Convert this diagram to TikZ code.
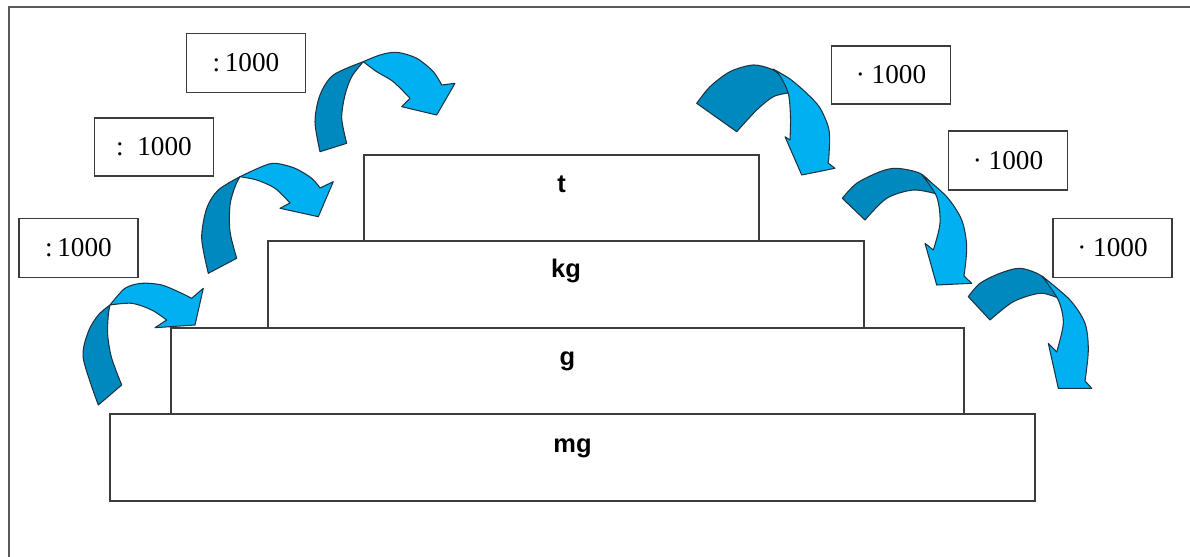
\documentclass[tikz,border=0pt]{standalone}
\usepackage{fontspec}
\setmainfont{Liberation Serif}
\setsansfont{Liberation Sans}
\definecolor{lightarrow}{HTML}{00B0F0}
\definecolor{darkarrow}{HTML}{0089BF}
\definecolor{boxline}{HTML}{3C3C3C}
\definecolor{frameline}{HTML}{5A5A5A}
\definecolor{arrowline}{HTML}{1C3442}
\tikzset{
  stepbox/.style={draw=boxline, line width=0.85pt, inner sep=0pt},
  unitlabel/.style={font=\sffamily\bfseries\fontsize{14.5}{17}\selectfont, anchor=base, inner sep=0pt},
  factorbox/.style={draw=boxline, line width=0.85pt, inner sep=0pt,
    font=\fontsize{15.5}{18}\selectfont, minimum width=2.38cm, minimum height=1.18cm},
  backpart/.style={fill=darkarrow, draw=arrowline, line width=0.6pt, line join=round},
  frontpart/.style={fill=lightarrow, draw=arrowline, line width=0.6pt, line join=round},
}
\begin{document}
\begin{tikzpicture}[x=0.02cm, y=-0.02cm]
\useasboundingbox (0,0) rectangle (1190,557);
% frame (only top and left edges visible)
\draw[frameline, line width=1.1pt] (9,557) -- (9,7) -- (1190,7);

% steps
\node[stepbox, minimum width=18.5cm, minimum height=1.74cm] (mg) at (572.5,457.5) {};
\node[stepbox, minimum width=15.86cm, minimum height=1.72cm] (g) at (567.5,371) {};
\node[stepbox, minimum width=11.92cm, minimum height=1.74cm] (kg) at (566,284.5) {};
\node[stepbox, minimum width=7.9cm, minimum height=1.72cm] (t) at (561.5,198) {};
\node[unitlabel] (tl) at ([yshift=-0.76cm]t.north) {t};
\node[unitlabel] (kgl) at ([yshift=-0.74cm]kg.north) {kg};
\node[unitlabel] (gl) at ([yshift=-0.76cm]g.north) {g};
\node[unitlabel] (mgl) at ([yshift=-0.78cm]mg.north) {mg};

% factor boxes
\node[factorbox] (l1) at (246,63) {:\,1000\hspace{2pt}};
\node[factorbox, minimum height=1.16cm] (l2) at (154,147) {:\ \ 1000\hspace{4.5pt}};
\node[factorbox] (l3) at (78.5,248) {:\,1000\hspace{9pt}};
\node[factorbox, minimum height=1.16cm] (r1) at (891,75) {·\ 1000\hspace{8.5pt}};
\node[factorbox] (r2) at (1008,160.5) {·\ 1000\hspace{8pt}};
\node[factorbox] (r3) at (1112.5,248) {·\ 1000\hspace{8pt}};

% left arrows (up the stairs)
\filldraw[backpart] plot[smooth] coordinates {(98.3,405) (83.3,358.3) (88.3,331.7) (98.3,315) (110,305)}
  -- plot[smooth] coordinates {(110,305) (108.3,315) (107.7,335) (111.7,358.3) (121.7,385)} -- cycle;
\filldraw[frontpart] plot[smooth] coordinates {(110,305) (125,288.3) (141.7,283.3) (161.7,285) (181.7,293.3) (191.7,298.3)}
  -- (203.3,288.3) -- (195,325) -- (155,327.7)
  -- plot[smooth] coordinates {(166.7,320) (151.7,310) (131.7,303.3) (110,305)} -- cycle;

\filldraw[backpart] plot[smooth] coordinates {(208.3,273.3) (201.7,238.3) (206.7,208.3) (218.3,190) (240,176.7)}
  -- plot[smooth] coordinates {(240,176.7) (235,186.7) (230,205) (230,231.7) (236.7,258.3)} -- cycle;
\filldraw[frontpart] plot[smooth] coordinates {(240,176.7) (261.7,166.7) (275,163.3) (295,168.3) (311.7,178.3) (320,188)}
  -- (333.3,181.7) -- (318.3,216.7) -- (280,208.3)
  -- plot[smooth] coordinates {(290,203) (275,188.3) (256.7,180) (240,176.7)} -- cycle;

\filldraw[backpart] plot[smooth] coordinates {(320,151.7) (315,121.7) (320,95) (333.3,75) (363.3,61.7)}
  -- plot[smooth] coordinates {(363.3,61.7) (351.7,76.7) (345,95) (341.7,118.3) (346.7,143.3)} -- cycle;
\filldraw[frontpart] plot[smooth] coordinates {(363.3,61.7) (380,55) (396.7,52.3) (416.7,58.3) (433.3,71.7) (441.7,85)}
  -- (455,83.3) -- (436.7,115) -- (401.7,106.7)
  -- plot[smooth] coordinates {(410,98.3) (393.3,81.7) (376.7,71.7) (363.3,61.7)} -- cycle;

% right arrows (down the stairs)
\filldraw[backpart] plot[smooth] coordinates {(696.7,103.3) (710,86.7) (730,71.7) (753.3,65) (773.3,70) (785,80)}
  -- plot[smooth] coordinates {(788.3,93) (773.3,96.7) (756.7,110) (736.7,131.7)} -- cycle;
\filldraw[frontpart] plot[smooth] coordinates {(773,69) (790,79) (806.7,93.3) (820,108) (829,130) (829,155) (828,163)}
  -- (835,168.3) -- (801.7,175) -- (785,136.7)
  -- plot[smooth] coordinates {(790,140) (790.5,117) (788.3,93.3) (780,76) (773,69)} -- cycle;

\filldraw[backpart] plot[smooth] coordinates {(842.3,198.3) (856.7,183.3) (880,171.7) (896.7,168.3) (920,173.3) (935,186.7)}
  -- plot[smooth] coordinates {(937,194) (913.3,190) (886.7,198.3) (865,220)} -- cycle;
\filldraw[frontpart] plot[smooth] coordinates {(922,175) (946.7,196.7) (961.7,220) (966.7,246.7) (964,276)}
  -- (971.7,283.3) -- (936.7,285) -- (925,243.3)
  -- plot[smooth] coordinates {(933.3,250) (940,223.3) (936.7,196.7) (922,175)} -- cycle;

\filldraw[backpart] plot[smooth] coordinates {(968.3,296.7) (980,283.3) (1000,273.3) (1020,268.3) (1040,275) (1056.7,290)}
  -- plot[smooth] coordinates {(1058,298) (1040,293.3) (1013.3,301.7) (990,320)} -- cycle;
\filldraw[frontpart] plot[smooth] coordinates {(1042,276) (1070,300) (1085,323.3) (1088.3,350) (1085,381)}
  -- (1091.7,388.3) -- (1058.3,388.3) -- (1048.3,343.3)
  -- plot[smooth] coordinates {(1056.7,352) (1063.3,323.3) (1058.3,300) (1042,276)} -- cycle;
\end{tikzpicture}
\end{document}
